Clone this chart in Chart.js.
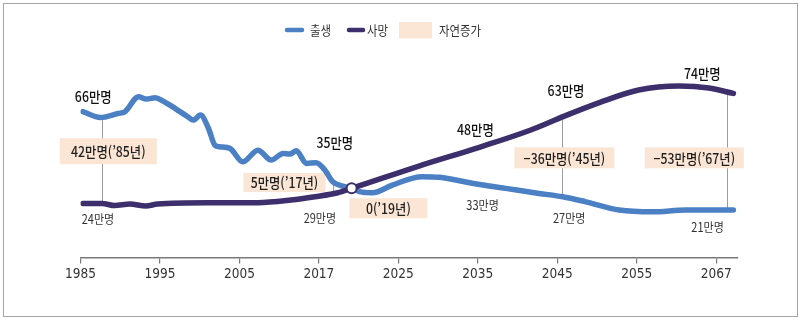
<!DOCTYPE html>
<html lang="ko">
<head>
<meta charset="utf-8">
<title>출생·사망 추이</title>
<script src="https://cdn.jsdelivr.net/npm/chart.js@4.4.1/dist/chart.umd.min.js"></script>
<style>
    html, body { margin: 0; padding: 0; background: #fff; }
    #wrap { position: relative; width: 800px; height: 322px; }
    #frame {
        position: absolute; left: 3px; top: 3px; width: 793px; height: 312px;
        border: 1px solid #a6a6a6; pointer-events: none;
    }
</style>
</head>
<body>
<div id="wrap">
    <canvas id="popChart" width="800" height="322"></canvas>
    <div id="frame"></div>
</div>
<script>
// 축 눈금 (간격이 일정하지 않은 연도)
const tickYears = [1985, 1995, 2005, 2017, 2025, 2035, 2045, 2055, 2067];

// 출생 (만명)
const birthYears = [1985.3, 1987.5, 1989.7, 1990.6, 1992.3, 1993.3, 1994.4, 1995.4, 1996.9, 1998.5,
    1999.2, 2000.1, 2001.1, 2001.9, 2002.5, 2003.8, 2005.5, 2007.8, 2009.8, 2011.6,
    2012.6, 2013.6, 2015.1, 2016.6, 2017.6, 2018.4, 2019.4, 2020.3, 2021.1, 2022.4,
    2024.4, 2028.0, 2030.2, 2034.3, 2038.5, 2042.7, 2045.7, 2048.6, 2052.8, 2057.4,
    2062.4, 2069.6];
const births = [66.0, 63.4, 65.2, 66.0, 72.8, 71.7, 72.3, 70.8, 67.5, 63.7,
    62.2, 64.5, 58.5, 50.9, 50.1, 49.4, 43.3, 48.6, 44.1, 47.1,
    46.8, 48.3, 42.6, 42.9, 39.6, 34.3, 32.3, 31.3, 29.8, 29.3,
    32.8, 36.6, 36.3, 33.6, 31.3, 29.0, 27.5, 25.2, 21.5, 20.7,
    21.5, 21.5];

// 사망 (만명)
const deathYears = [1985.3, 1987.7, 1989.3, 1991.2, 1993.2, 1994.7, 2001.0, 2007.8, 2012.8, 2016.4,
    2018.9, 2020.3, 2027.6, 2035.2, 2041.5, 2045.9, 2050.3, 2055.3, 2061.4, 2065.9,
    2069.6];
const deaths = [24.5, 24.5, 23.5, 24.2, 23.3, 24.2, 24.8, 24.8, 26.0, 27.5,
    29.3, 31.3, 41.4, 49.9, 57.5, 64.0, 70.1, 75.8, 77.6, 76.7,
    74.3];

// 자연증가 0 지점
const crossYear = 2020.3;
const crossValue = 31.3;

// 주석
const markLines = [
    { year: 1987.7, from: 63.4, to: 24.5 },
    { year: 2018.4, from: 34.3, to: 29.0 },
    { year: 2045.6, from: 63.5, to: 27.5 },
    { year: 2068.7, from: 74.5, to: 21.5 }
];
const boxLabels = [
    { text: '42만명(’85년)', year: 1988.5, value: 48.1, w: 97, h: 26 },
    { text: '5만명(’17년)', year: 2011.8, value: 33.9, w: 82, h: 19 },
    { text: '0(’19년)', year: 2024.0, value: 22.3, w: 78, h: 20 },
    { text: '−36만명(’45년)', year: 2045.9, value: 45.1, w: 100, h: 21 },
    { text: '−53만명(’67년)', year: 2063.7, value: 45.1, w: 99, h: 21 }
];
const bigLabels = [
    { text: '66만명', year: 1986.6, value: 72.6 },
    { text: '35만명', year: 2018.6, value: 51.8 },
    { text: '48만명', year: 2034.7, value: 57.7 },
    { text: '63만명', year: 2046.1, value: 75.3 },
    { text: '74만명', year: 2064.9, value: 83.3 }
];
const smallLabels = [
    { text: '24만명', year: 1987.2, value: 17.3 },
    { text: '29만명', year: 2017.1, value: 17.7 },
    { text: '33만명', year: 2035.6, value: 23.8 },
    { text: '27만명', year: 2046.5, value: 17.7 },
    { text: '21만명', year: 2065.7, value: 13.9 }
];

const BLUE = '#4b80c4';
const PURPLE = '#3d2f6b';
const BEIGE = '#fbe5d4';
const KR = "'Noto Sans CJK KR', 'Noto Sans', sans-serif";

// 연도 -> 축 위치 (눈금 사이를 같은 간격으로)
function yearPos(y) {
    let i = 0;
    while (i < tickYears.length - 2 && y > tickYears[i + 1]) i++;
    return i + (y - tickYears[i]) / (tickYears[i + 1] - tickYears[i]);
}

function toPoints(xs, ys) {
    return xs.map((x, i) => ({ x: yearPos(x), y: ys[i] }));
}

function drawText(ctx, text, x, y, font, color, align) {
    ctx.save();
    ctx.font = font;
    ctx.fillStyle = color;
    ctx.textAlign = align || 'center';
    ctx.textBaseline = 'middle';
    ctx.translate(x, y);
    ctx.scale(0.88, 1);
    ctx.fillText(text, 0, 0);
    ctx.restore();
}

const annotations = {
    id: 'annotations',
    beforeDatasetsDraw(chart) {
        const { ctx, scales: { x, y } } = chart;
        const px = yr => x.getPixelForValue(yearPos(yr));

        ctx.save();
        ctx.strokeStyle = '#9c9c9c';
        ctx.lineWidth = 1;
        markLines.forEach(m => {
            const xx = Math.round(px(m.year)) + 0.5;
            ctx.beginPath();
            ctx.moveTo(xx, y.getPixelForValue(m.from));
            ctx.lineTo(xx, y.getPixelForValue(m.to));
            ctx.stroke();
        });
        ctx.restore();

        boxLabels.forEach(b => {
            const cx = px(b.year), cy = y.getPixelForValue(b.value);
            ctx.fillStyle = BEIGE;
            ctx.fillRect(cx - b.w / 2, cy - b.h / 2, b.w, b.h);
            drawText(ctx, b.text, cx, cy + 0.5, '500 14px ' + KR, '#1e1e1e');
        });
        bigLabels.forEach(l => {
            drawText(ctx, l.text, px(l.year), y.getPixelForValue(l.value), '500 14px ' + KR, '#111');
        });
        smallLabels.forEach(l => {
            drawText(ctx, l.text, px(l.year), y.getPixelForValue(l.value), '400 12.5px ' + KR, '#333');
        });
    },
    afterDraw(chart) {
        // 범례
        const ctx = chart.ctx;
        ctx.save();
        ctx.lineCap = 'round';
        ctx.lineWidth = 4.5;
        ctx.strokeStyle = BLUE;
        ctx.beginPath(); ctx.moveTo(287, 30); ctx.lineTo(302, 30); ctx.stroke();
        ctx.strokeStyle = PURPLE;
        ctx.beginPath(); ctx.moveTo(349, 30); ctx.lineTo(363, 30); ctx.stroke();
        ctx.fillStyle = BEIGE;
        ctx.fillRect(399, 22, 33, 16.5);
        ctx.restore();
        drawText(ctx, '출생', 310, 30.5, '400 13px ' + KR, '#333', 'left');
        drawText(ctx, '사망', 367, 30.5, '400 13px ' + KR, '#333', 'left');
        drawText(ctx, '자연증가', 439, 30.5, '400 13px ' + KR, '#333', 'left');
    }
};

new Chart(document.getElementById('popChart'), {
    type: 'line',
    data: {
        datasets: [
            {
                label: '0',
                data: [{ x: yearPos(crossYear), y: crossValue }],
                showLine: false,
                pointRadius: 5,
                pointBackgroundColor: '#fff',
                pointBorderColor: PURPLE,
                pointBorderWidth: 2,
                order: 0
            },
            {
                label: '사망',
                data: toPoints(deathYears, deaths),
                borderColor: PURPLE,
                borderWidth: 5.5,
                borderCapStyle: 'round',
                borderJoinStyle: 'round',
                cubicInterpolationMode: 'monotone',
                pointRadius: 0,
                order: 1
            },
            {
                label: '출생',
                data: toPoints(birthYears, births),
                borderColor: BLUE,
                borderWidth: 5.5,
                borderCapStyle: 'round',
                borderJoinStyle: 'round',
                cubicInterpolationMode: 'monotone',
                pointRadius: 0,
                order: 2
            }
        ]
    },
    options: {
        responsive: false,
        animation: false,
        devicePixelRatio: 1,
        layout: { padding: { left: 80.5, right: 62, top: 60, bottom: 0 } },
        plugins: {
            legend: { display: false },
            tooltip: { enabled: false }
        },
        scales: {
            x: {
                type: 'linear',
                min: 0,
                max: yearPos(2070.3),
                afterBuildTicks: s => { s.ticks = tickYears.map((t, i) => ({ value: i })); },
                afterFit: s => { s.height = 64.5; },
                border: { display: true, color: '#7a7a7a', width: 1.5 },
                grid: { drawOnChartArea: false, drawTicks: true, tickLength: 6, color: '#7a7a7a', lineWidth: 1.2 },
                ticks: {
                    autoSkip: false,
                    maxRotation: 0,
                    padding: 3,
                    color: '#333',
                    font: { family: "'Liberation Sans Narrow', 'DejaVu Sans Condensed', sans-serif", size: 13.5 },
                    callback: v => tickYears[v]
                }
            },
            y: {
                display: false,
                min: 0,
                max: 89.4
            }
        }
    },
    plugins: [annotations]
});
</script>
</body>
</html>
